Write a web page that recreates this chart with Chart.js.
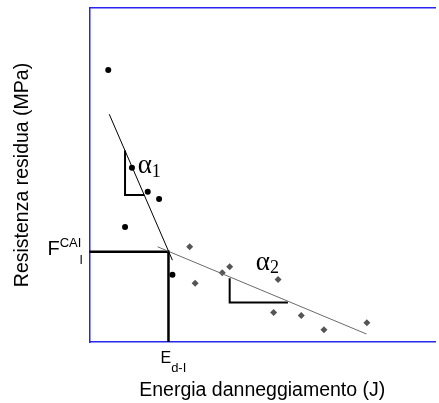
<!DOCTYPE html>
<html lang="it">
<head>
<meta charset="UTF-8">
<title>Resistenza residua</title>
<script src="https://cdn.jsdelivr.net/npm/chart.js"></script>
<style>
    body { margin: 0; background: #fff; }
    canvas { display: block; }
</style>
</head>
<body>
<canvas id="grafico" width="439" height="403"></canvas>
<script>
// prove della prima fase (cerchi neri)
const energia1 = [1.9, 4.3, 5.9, 7.05, 3.6, 8.4];
const resist1  = [81.4, 52.2, 45.0, 42.8, 34.4, 20.1];

// prove della seconda fase (rombi grigi)
const energia2 = [10.15, 10.7, 13.45, 14.2, 19.1, 18.65, 21.45, 23.75, 28.1];
const resist2  = [28.5, 17.6, 20.7, 22.5, 18.7, 8.8, 7.9, 3.7, 5.8];

// rette di regressione delle due fasi
const retta1X = [2.0, 8.4];
const retta1Y = [68.2, 24.5];
const retta2X = [6.9, 28.05];
const retta2Y = [28.5, 2.4];

// punto di transizione (E d-I, F CAI I)
const transX = [0, 8.0, 8.0];
const transY = [27.0, 27.0, 0];

// triangoli delle pendenze
const tri1X = [3.6, 3.6, 5.55];
const tri1Y = [57.3, 44.0, 44.0];
const tri2X = [14.2, 14.2, 20.1];
const tri2Y = [19.1, 11.8, 11.8];

const BLU = '#2626ee';

function punti(xs, ys) {
    return xs.map((v, i) => ({ x: v, y: ys[i] }));
}

function asse(pos, titolo, padding) {
    return {
        type: 'linear',
        position: pos,
        min: 0,
        max: pos === 'left' ? 100 : 35,
        ticks: { display: false },
        grid: { display: false, drawTicks: false },
        border: { display: true, color: BLU, width: 1.5 },
        title: titolo ? {
            display: true,
            text: titolo,
            color: '#000',
            font: { family: 'Liberation Sans', size: 19.5 },
            padding: padding
        } : { display: false }
    };
}

// testo con pedice/apice
function scrivi(ctx, testo, x, y, font) {
    ctx.font = font;
    ctx.fillText(testo, x, y);
    return x + ctx.measureText(testo).width;
}

const etichette = {
    id: 'etichette',
    afterDatasetsDraw(chart) {
        const { ctx, chartArea, scales: { x, y } } = chart;
        ctx.save();
        ctx.fillStyle = '#000';
        ctx.textBaseline = 'alphabetic';
        ctx.textAlign = 'left';

        // alfa 1 e alfa 2
        let px = x.getPixelForValue(4.88), py = y.getPixelForValue(50.7);
        px = scrivi(ctx, 'α', px, py, '27px "Liberation Serif"');
        scrivi(ctx, '1', px, py + 4, '18px "Liberation Serif"');

        px = x.getPixelForValue(16.85); py = y.getPixelForValue(21.6);
        px = scrivi(ctx, 'α', px, py, '27px "Liberation Serif"');
        scrivi(ctx, '2', px, py + 3, '18px "Liberation Serif"');

        // F CAI I a sinistra dell'asse
        py = y.getPixelForValue(transY[0]) + 3;
        px = scrivi(ctx, 'F', chartArea.left - 42, py, '20px "Liberation Sans"');
        px = scrivi(ctx, 'CAI', px, py - 8, '13px "Liberation Sans"');
        scrivi(ctx, 'I', px - 2, py + 9, '12px "Liberation Sans"');

        // E d-I sotto l'asse
        px = x.getPixelForValue(transX[1]) - 8;
        py = chartArea.bottom + 21;
        px = scrivi(ctx, 'E', px, py, '16px "Liberation Sans"');
        scrivi(ctx, 'd-I', px, py + 9, '13px "Liberation Sans"');
        ctx.restore();
    }
};

new Chart(document.getElementById('grafico'), {
    type: 'scatter',
    data: {
        datasets: [
            {
                data: punti(retta1X, retta1Y), showLine: true,
                borderColor: '#000', borderWidth: 1, pointRadius: 0
            },
            {
                data: punti(retta2X, retta2Y), showLine: true,
                borderColor: '#6a6a6a', borderWidth: 1, pointRadius: 0
            },
            {
                data: punti(transX, transY), showLine: true, clip: false,
                borderColor: '#000', borderWidth: 2.5, pointRadius: 0
            },
            {
                data: punti(tri1X, tri1Y), showLine: true,
                borderColor: '#000', borderWidth: 2, pointRadius: 0
            },
            {
                data: punti(tri2X, tri2Y), showLine: true,
                borderColor: '#000', borderWidth: 2, pointRadius: 0
            },
            {
                data: punti(energia1, resist1),
                pointStyle: 'circle', pointRadius: 3,
                backgroundColor: '#000', borderColor: '#000', borderWidth: 0
            },
            {
                data: punti(energia2, resist2),
                pointStyle: 'rectRot', pointRadius: 3.5,
                backgroundColor: '#555', borderColor: '#555', borderWidth: 0
            }
        ]
    },
    options: {
        responsive: false,
        animation: false,
        devicePixelRatio: 1,
        layout: { padding: { left: 0, right: 0, top: 8, bottom: 0 } },
        plugins: { legend: { display: false }, tooltip: { enabled: false } },
        scales: {
            x: asse('bottom', 'Energia danneggiamento (J)', { top: 37.3, bottom: 0.3 }),
            x2: asse('top', null),
            y: asse('left', 'Resistenza residua (MPa)', { top: 11.3, bottom: 54.8 })
        }
    },
    plugins: [etichette]
});
</script>
</body>
</html>
